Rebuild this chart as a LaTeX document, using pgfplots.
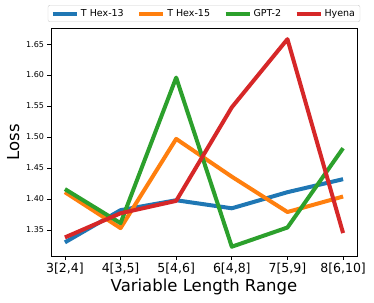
\documentclass[border=0pt]{standalone}
\usepackage{pgfplots}
\pgfplotsset{compat=1.18}
\usepackage{fontspec}
\setmainfont{DejaVu Sans}
\definecolor{tblue}{HTML}{1F77B4}
\definecolor{torange}{HTML}{FF7F0E}
\definecolor{tgreen}{HTML}{2CA02C}
\definecolor{tred}{HTML}{D62728}
\begin{document}
\begin{tikzpicture}
\begin{axis}[
  scale only axis,
  width=306pt, height=228pt,
  xmin=-0.25, xmax=5.25,
  ymin=1.308, ymax=1.676,
  xtick={0,1,2,3,4,5},
  xticklabels={{3[2,4]},{4[3,5]},{5[4,6]},{6[4,8]},{7[5,9]},{8[6,10]}},
  ytick={1.35,1.40,1.45,1.50,1.55,1.60,1.65},
  yticklabel style={/pgf/number format/fixed, /pgf/number format/fixed zerofill, /pgf/number format/precision=2, font=\fontsize{8}{9}\selectfont},
  xticklabel style={font=\fontsize{12.5}{14}\selectfont},
  /pgf/number format/assume math mode=true,
  tick align=outside,
  tick pos=left,
  major tick length=3.5pt,
  every tick/.style={black, line width=0.8pt},
  axis line style={black, line width=0.8pt},
  xlabel={Variable Length Range},
  ylabel={Loss},
  label style={font=\fontsize{16.5}{18}\selectfont},
  xlabel style={yshift=2pt},
  legend columns=4,
  legend style={at={(0.5,1)}, yshift=6pt, anchor=south, draw=black!20, rounded corners=2pt,
    font=\fontsize{9.5}{10}\selectfont, inner xsep=3pt, inner ysep=2pt,
    /tikz/every even column/.append style={column sep=11.5pt}},
  legend image code/.code={\draw[#1, line width=4pt] (0pt,0pt) -- (24pt,0pt);},
  every axis plot/.append style={line width=4pt, line join=round},
]
\addplot[tblue] coordinates {(0,1.330) (1,1.382) (2,1.398) (3,1.385) (4,1.411) (5,1.432)};
\addlegendentry{T Hex-13}
\addplot[torange] coordinates {(0,1.411) (1,1.353) (2,1.497) (3,1.436) (4,1.379) (5,1.404)};
\addlegendentry{T Hex-15}
\addplot[tgreen] coordinates {(0,1.416) (1,1.361) (2,1.596) (3,1.323) (4,1.354) (5,1.482)};
\addlegendentry{GPT-2}
\addplot[tred] coordinates {(0,1.338) (1,1.377) (2,1.397) (3,1.548) (4,1.658) (5,1.345)};
\addlegendentry{Hyena}
\end{axis}
\pgfresetboundingbox
\path[use as bounding box] (current axis.south west) ++(-51pt,-46pt) rectangle ++(374pt,302pt);
\end{tikzpicture}
\end{document}
